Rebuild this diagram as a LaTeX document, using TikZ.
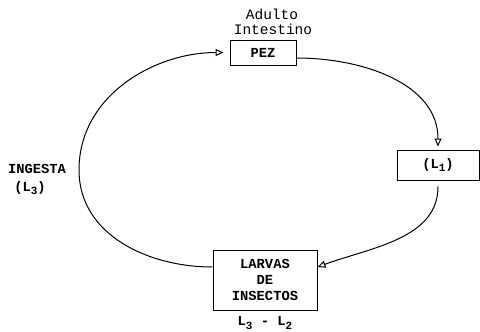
\documentclass[tikz,border=0pt]{standalone}
\usepackage{fontspec}
\setmainfont{Liberation Mono}
\usetikzlibrary{arrows.meta}
\newcommand{\sbs}[1]{\raisebox{-3.5pt}{\fontsize{11}{11}\selectfont #1}}
\begin{document}
\begin{tikzpicture}[x=1pt,y=-1pt,
  box/.style={draw,line width=1pt,minimum width=#1,inner sep=0pt},
  lbl/.style={font=\fontsize{13.8}{16}\selectfont\bfseries,align=center,inner sep=0pt},
  plain/.style={font=\fontsize{14.5}{15}\selectfont,align=center,inner sep=0pt},
  link/.style={line width=1pt,-{Triangle[open,length=8pt,width=7pt,line width=1pt]}}]
\useasboundingbox (0,0) rectangle (480,332);
\node[box=66pt,minimum height=25pt,lbl] (pez) at (263,52.5) {PEZ};
\node[plain] (adulto) at (272,14) {Adulto};
\node[plain] (intestino) at (273,29) {Intestino};
\node[box=82pt,minimum height=30pt,lbl] (l1) at (438,165) {(L\sbs{1})};
\node[box=104pt,minimum height=60pt,lbl] (larvas) at (265,280) {LARVAS\\DE\\INSECTOS};
\node[lbl] (l3l2) at (265,323) {L\sbs{3} - L\sbs{2}};
\node[lbl] (ingesta) at (37,169) {INGESTA};
\node[lbl] (l3) at (30,188) {(L\sbs{3})};
\coordinate (pezout) at ([yshift=-5.5pt]pez.east);
\coordinate (larvin) at ([yshift=13pt]larvas.west);
\coordinate (larvarr) at ([yshift=13pt]larvas.east);
\coordinate (leftmost) at (79,170);
\draw[line width=1pt] (larvin) to[out=180,in=-90] (leftmost);
\draw[link,shorten >=6pt] (leftmost) to[out=90,in=180] (pez.west);
\draw[link,shorten >=3pt] (pezout) to[out=0,in=90] (l1.north);
\draw[link,shorten <=6pt] (l1.south) to[out=-90,in=20] (larvarr);
\end{tikzpicture}
\end{document}
